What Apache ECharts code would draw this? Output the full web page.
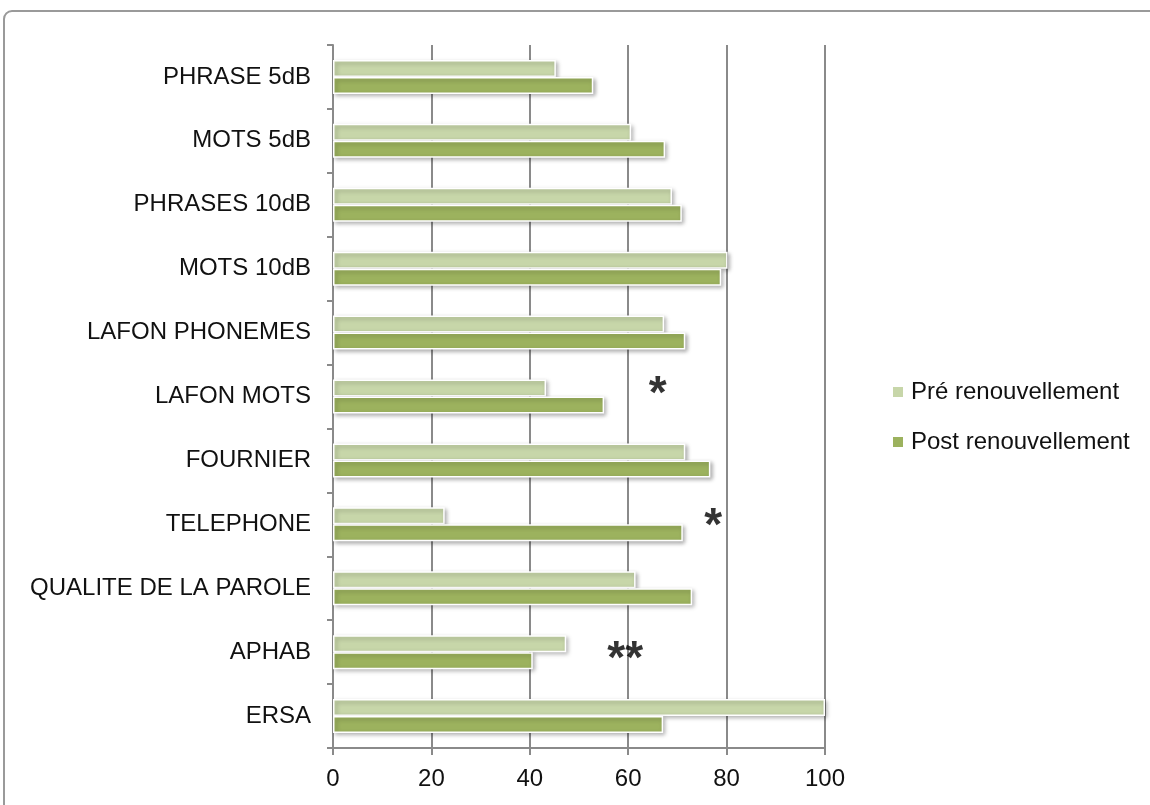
<!DOCTYPE html>
<html><head><meta charset="utf-8">
<script src="https://cdn.jsdelivr.net/npm/echarts@6/dist/echarts.min.js"></script>
<style>html,body{margin:0;padding:0;background:#fff}#c{width:1150px;height:805px}</style>
</head><body><div id="c"></div>
<script>
const categories = ['PHRASE 5dB','MOTS 5dB','PHRASES 10dB','MOTS 10dB','LAFON PHONEMES','LAFON MOTS','FOURNIER','TELEPHONE','QUALITE DE LA PAROLE','APHAB','ERSA'];
const preValues  = [45.3, 60.6, 68.9, 80.2, 67.3, 43.3, 71.6, 22.7, 61.5, 47.4, 100];
const postValues = [52.9, 67.5, 70.9, 78.9, 71.6, 55.1, 76.7, 71.1, 73.0, 40.6, 67.1];
const seriesNames = ['Pré renouvellement','Post renouvellement'];
const xTicks = [0,20,40,60,80,100];
const annotationCats = ['LAFON MOTS', 'TELEPHONE', 'APHAB'];
const annotationX = [66, 77.3, 59.4];
const annotationText = ['*', '*', '**'];

// label vertical nudges (styling only)
const annotationDy = [-1, 3, 8];

const chart = echarts.init(document.getElementById('c'));
const font = 'Liberation Sans, Arial, sans-serif';
const barStyle = (c) => ({color: c, borderColor: '#fff', borderWidth: 1.5,
  shadowBlur: 4, shadowColor: 'rgba(0,0,0,0.3)', shadowOffsetX: 2, shadowOffsetY: 2});
chart.setOption({
  animation: false,
  graphic: [{type:'rect', shape:{x:4, y:11, width:1170, height:830, r:8}, style:{fill:'none', stroke:'#9a9a9a', lineWidth:2}, z:-1}],
  grid: {left: 333, right: 325, top: 45, bottom: 57, containLabel: false},
  legend: {
    orient: 'vertical', left: 886, top: 375, itemGap: 26, itemWidth: 12, itemHeight: 12, icon: 'rect',
    data: seriesNames,
    textStyle: {fontFamily: font, fontSize: 24, color: '#111', padding: [0,0,0,2]}
  },
  xAxis: {
    type: 'value', min: 0, max: 100, interval: 20,
    axisLine: {show: true, lineStyle: {color: '#8a8a8a', width: 2}},
    axisTick: {show: true, length: 7, lineStyle: {color: '#8a8a8a', width: 2}},
    axisLabel: {fontFamily: font, fontSize: 24, color: '#111', margin: 19,
      formatter: v => xTicks.includes(v) ? String(v) : ''},
    splitLine: {show: true, lineStyle: {color: '#8a8a8a', width: 2}}
  },
  yAxis: {
    type: 'category', data: categories, inverse: true,
    axisLine: {show: true, lineStyle: {color: '#8a8a8a', width: 2}},
    axisTick: {show: true, length: 6, lineStyle: {color: '#8a8a8a', width: 2}},
    axisLabel: {fontFamily: font, fontSize: 24, color: '#111', margin: 22}
  },
  series: [
    {name: seriesNames[0], type: 'bar', data: preValues, barWidth: 17, barGap: '0%', itemStyle: barStyle('#c7d6a9')},
    {name: seriesNames[1], type: 'bar', data: postValues, barWidth: 17, barGap: '0%', itemStyle: barStyle('#9cb25e')},
    {name: 'sig', type: 'scatter', symbolSize: 0, silent: true,
      data: annotationCats.map((c, i) => ({value: [annotationX[i], c],
        label: {formatter: annotationText[i], offset: [0, annotationDy[i]]}})),
      label: {show: true, position: 'inside', fontFamily: font, fontSize: 46, fontWeight: 'bold', color: '#000'}}
  ]
});
</script></body></html>
